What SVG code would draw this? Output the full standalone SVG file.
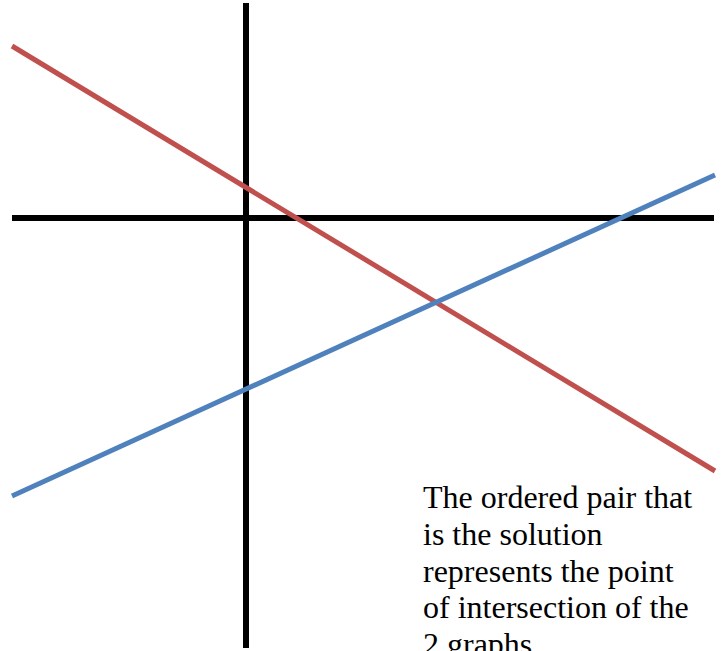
<svg xmlns="http://www.w3.org/2000/svg" width="723" height="651" viewBox="0 0 723 651">
<style>
.axis{stroke:#000;stroke-width:6;fill:none}
.red{stroke:#C0504D;stroke-width:5;fill:none}
.blue{stroke:#4F81BD;stroke-width:5;fill:none}
.lbl{font-family:"Liberation Serif","Times New Roman",serif;font-size:32px;fill:#000}
</style>
<rect width="723" height="651" fill="#fff"/>
<g id="connectors">
<line id="x-axis" class="axis" x1="12" y1="218" x2="714" y2="218"/>
<line id="y-axis" class="axis" x1="246" y1="3" x2="246" y2="648"/>
<line id="red-line" class="red" x1="12" y1="46" x2="715" y2="471"/>
<line id="blue-line" class="blue" x1="12" y1="496" x2="715" y2="175"/>
</g>
<g id="label">
<text class="lbl" x="423" y="508">The ordered pair that</text>
<text class="lbl" x="423" y="545">is the solution</text>
<text class="lbl" x="423" y="582">represents the point</text>
<text class="lbl" x="423" y="618">of intersection of the</text>
<text class="lbl" x="423" y="655">2 graphs</text>
</g>
</svg>
